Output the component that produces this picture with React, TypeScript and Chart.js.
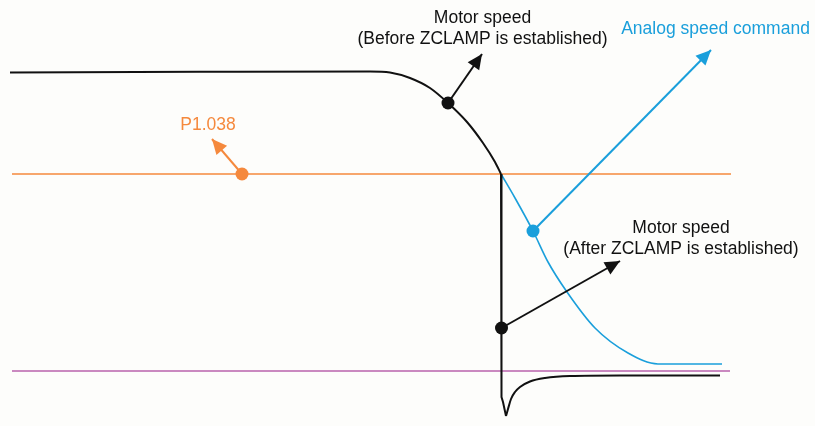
import React, { useEffect, useRef } from "react";
import { Chart, registerables } from "chart.js";

Chart.register(...registerables);

// Motor speed before ZCLAMP (time, speed)
const timeBefore = [10, 200, 370, 390, 410, 430, 448, 467, 483, 495, 501];
const speedBefore = [298.5, 299.2, 299.6, 298.6, 293, 283, 268, 249, 228, 209, 197];

// Motor speed clamped drop
const timeDrop = [501, 501.5, 503, 506];
const speedDrop = [197, -26, -31, -45];

// Motor speed recovery after ZCLAMP
const timeRecover = [506, 508, 511, 515, 520, 530, 545, 570, 620, 720];
const speedRecover = [-45, -38, -28, -21, -16, -10.5, -7, -5, -4.5, -4.5];

// Analog speed command
const timeCmd = [501, 515, 533, 548, 567, 595, 628, 658, 722];
const speedCmd = [197, 173, 140, 109, 79, 43, 18, 7, 7];

// Reference levels
const levelTime = [12, 731];
const p1038Level = [197, 197];
const zeroLevel = [0, 0];

// Callout dots & arrows
const calloutStartT = [448, 533, 501.5, 242];
const calloutStartV = [268, 140, 43, 197];
const calloutEndT = [482, 711, 620, 212];
const calloutEndV = [317, 321, 110, 232];
const calloutColors = ["#111111", "#1a9fdb", "#111111", "#f5893d"];

// Text labels
const labelTexts = [
  "Motor speed",
  "(Before ZCLAMP is established)",
  "Analog speed command",
  "Motor speed",
  "(After ZCLAMP is established)",
  "P1.038",
];
const labelT = [482.5, 482.5, 715.5, 681, 681, 208];
const labelV = [348.5, 327.5, 337.5, 138.5, 117, 241.5];
const labelColors = ["#111111", "#111111", "#1a9fdb", "#111111", "#111111", "#f5893d"];

const BLACK = "#111111";
const BLUE = "#1a9fdb";
const ORANGE = "#f5893d";
const PURPLE = "#b862ac";

const pts = (t: number[], v: number[]) => t.map((x, i) => ({ x, y: v[i] }));

const bgPlugin = {
  id: "bg",
  beforeDraw(chart: any) {
    const ctx = chart.ctx;
    ctx.save();
    ctx.fillStyle = "#fdfdfb";
    ctx.fillRect(0, 0, chart.width, chart.height);
    ctx.restore();
  },
};

const arrowPlugin = {
  id: "arrowHeads",
  afterDatasetsDraw(chart: any) {
    const ctx = chart.ctx;
    chart.data.datasets.forEach((ds: any, i: number) => {
      if (!ds.arrow) return;
      const meta = chart.getDatasetMeta(i);
      const p0 = meta.data[0];
      const p1 = meta.data[meta.data.length - 1];
      const a = Math.atan2(p1.y - p0.y, p1.x - p0.x);
      const L = 15;
      const W = 7;
      const bx = p1.x - L * Math.cos(a);
      const by = p1.y - L * Math.sin(a);
      ctx.save();
      ctx.fillStyle = ds.borderColor;
      ctx.beginPath();
      ctx.moveTo(p1.x, p1.y);
      ctx.lineTo(bx - W * Math.sin(a), by + W * Math.cos(a));
      ctx.lineTo(bx + W * Math.sin(a), by - W * Math.cos(a));
      ctx.closePath();
      ctx.fill();
      ctx.restore();
    });
  },
};

const labelPlugin = {
  id: "labels",
  afterDraw(chart: any) {
    const ctx = chart.ctx;
    const xs = chart.scales.x;
    const ys = chart.scales.y;
    ctx.save();
    ctx.font = '17.5px Arial, "Liberation Sans", sans-serif';
    ctx.textAlign = "center";
    ctx.textBaseline = "alphabetic";
    labelTexts.forEach((t, i) => {
      ctx.fillStyle = labelColors[i];
      ctx.fillText(t, xs.getPixelForValue(labelT[i]), ys.getPixelForValue(labelV[i]));
    });
    ctx.restore();
  },
};

export default function App() {
  const ref = useRef<HTMLCanvasElement | null>(null);

  useEffect(() => {
    if (!ref.current) return;
    const dotData = calloutStartT.map((x, i) => ({ x, y: calloutStartV[i] }));
    const arrowSets = calloutStartT.map((x, i) => ({
      type: "line",
      data: [
        { x, y: calloutStartV[i] },
        { x: calloutEndT[i], y: calloutEndV[i] },
      ],
      borderColor: calloutColors[i],
      borderWidth: 2,
      pointRadius: 0,
      tension: 0,
      arrow: true,
    }));
    const chart = new Chart(ref.current, {
      type: "line",
      data: {
        datasets: [
          {
            data: dotData,
            showLine: false,
            pointRadius: 6.5,
            pointBackgroundColor: calloutColors,
            pointBorderColor: calloutColors,
            pointBorderWidth: 0,
          },
          ...arrowSets,
          {
            data: pts(timeBefore, speedBefore),
            borderColor: BLACK,
            borderWidth: 2,
            pointRadius: 0,
            cubicInterpolationMode: "monotone",
          },
          {
            data: pts(timeDrop, speedDrop),
            borderColor: BLACK,
            borderWidth: 2,
            pointRadius: 0,
            tension: 0,
          },
          {
            data: pts(timeRecover, speedRecover),
            borderColor: BLACK,
            borderWidth: 2,
            pointRadius: 0,
            cubicInterpolationMode: "monotone",
          },
          {
            data: pts(timeCmd, speedCmd),
            borderColor: BLUE,
            borderWidth: 1.6,
            pointRadius: 0,
            cubicInterpolationMode: "monotone",
          },
          {
            data: pts(levelTime, p1038Level),
            borderColor: ORANGE,
            borderWidth: 1.6,
            pointRadius: 0,
          },
          {
            data: pts([levelTime[0], levelTime[1] - 1], zeroLevel),
            borderColor: PURPLE,
            borderWidth: 1.6,
            pointRadius: 0,
          },
        ] as any,
      },
      options: {
        responsive: false,
        animation: false,
        devicePixelRatio: 1,
        layout: { padding: 0, autoPadding: false },
        plugins: { legend: { display: false }, tooltip: { enabled: false } },
        events: [],
        scales: {
          x: { type: "linear", min: 0, max: 815, display: false },
          y: { type: "linear", min: -55, max: 371, display: false },
        },
      } as any,
      plugins: [bgPlugin, arrowPlugin, labelPlugin],
    });
    return () => chart.destroy();
  }, []);

  return (
    <div style={{ position: "fixed", left: 0, top: 0, width: 815, height: 426 }}>
      <canvas ref={ref} width={815} height={426} style={{ display: "block" }} />
    </div>
  );
}
